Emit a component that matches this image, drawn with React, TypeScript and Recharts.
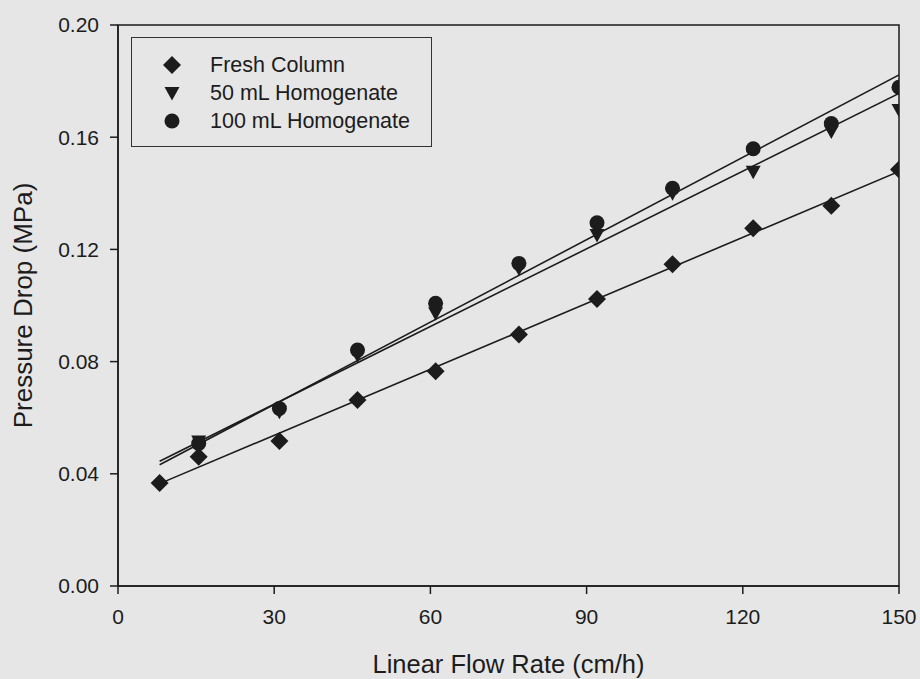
import React from 'react';
import { ComposedChart, Scatter, Line, XAxis, YAxis, ReferenceArea } from 'recharts';

// linear flow rate (cm/h) and pressure drop (MPa)
const flowRates = [8, 15.5, 31, 46, 61, 77, 92, 106.5, 122, 137, 150];
const homogenateFlowRates = [15.5, 31, 46, 61, 77, 92, 106.5, 122, 137, 150];
const freshColumn = [0.0367, 0.0461, 0.0517, 0.0663, 0.0766, 0.0897, 0.1023, 0.1147, 0.1275, 0.1356, 0.1485];
const homogenate50 = [0.0515, 0.0621, 0.0823, 0.0972, 0.1132, 0.1251, 0.140, 0.1477, 0.162, 0.1697];
const homogenate100 = [0.0508, 0.0633, 0.0841, 0.1008, 0.115, 0.1295, 0.1418, 0.1559, 0.1649, 0.1778];

// regression lines, start and end of fitted range
const fitRange = [8, 150];
const freshFit = [0.0365, 0.1478];
const homogenate50Fit = [0.0445, 0.1756];
const homogenate100Fit = [0.0432, 0.1822];

const xTicks = [0, 30, 60, 90, 120, 150];
const yTicks = [0, 0.04, 0.08, 0.12, 0.16, 0.2];

const INK = '#1c1c1c';
const FONT = '"Liberation Sans", Arial, sans-serif';

const toPoints = (xs: number[], ys: number[]) => xs.map((x, i) => ({ x, y: ys[i] }));

const Diamond = ({ cx, cy }: any) => (
  <polygon points={`${cx},${cy - 9} ${cx + 9},${cy} ${cx},${cy + 9} ${cx - 9},${cy}`} fill={INK} />
);
const TriangleDown = ({ cx, cy }: any) => (
  <polygon points={`${cx - 7.5},${cy - 6} ${cx + 7.5},${cy - 6} ${cx},${cy + 7.5}`} fill={INK} />
);
const Dot = ({ cx, cy }: any) => <circle cx={cx} cy={cy} r={7.5} fill={INK} />;

const series = [
  { name: 'Fresh Column', Shape: Diamond, points: toPoints(flowRates, freshColumn), fit: toPoints(fitRange, freshFit) },
  { name: '50 mL Homogenate', Shape: TriangleDown, points: toPoints(homogenateFlowRates, homogenate50), fit: toPoints(fitRange, homogenate50Fit) },
  { name: '100 mL Homogenate', Shape: Dot, points: toPoints(homogenateFlowRates, homogenate100), fit: toPoints(fitRange, homogenate100Fit) },
];

const LegendBox = () => (
  <div
    style={{
      position: 'absolute', left: 131, top: 37, width: 301, height: 110,
      border: `1.5px solid #333`, boxSizing: 'border-box', fontFamily: FONT,
      fontSize: 21.5, color: INK,
    }}
  >
    {series.map((s, i) => (
      <div key={s.name} style={{ position: 'absolute', left: 0, top: 13 + i * 28, height: 28, display: 'flex', alignItems: 'center' }}>
        <svg width={78} height={28} style={{ display: 'block' }}>
          <s.Shape cx={40} cy={14} />
        </svg>
        <span style={{ lineHeight: '28px' }}>{s.name}</span>
      </div>
    ))}
  </div>
);

export default function App() {
  return (
    <div style={{ position: 'relative', width: 920, height: 679, background: '#e6e6e6' }}>
      <style>{'body{margin:0;background:#e6e6e6}'}</style>
      <ComposedChart width={920} height={679} margin={{ top: 25, right: 21, bottom: 0, left: 0 }}>
        <XAxis
          type="number" dataKey="x" domain={[0, 150]} ticks={xTicks} allowDataOverflow
          height={93} tickSize={8} tickMargin={15}
          axisLine={{ stroke: INK, strokeWidth: 1.5 }} tickLine={{ stroke: INK, strokeWidth: 1.5 }}
          tick={{ fill: INK, fontSize: 21, fontFamily: FONT }}
          label={{
            content: ({ viewBox }: any) => (
              <text x={viewBox.x + viewBox.width / 2} y={viewBox.y + 78} textAnchor="middle" dominantBaseline="central"
                fill={INK} fontSize={25.5} fontFamily={FONT}>Linear Flow Rate (cm/h)</text>
            ),
          }}
        />
        <YAxis
          type="number" dataKey="y" domain={[0, 0.2]} ticks={yTicks} allowDataOverflow
          width={118} tickSize={8} tickMargin={11}
          tickFormatter={(v: number) => v.toFixed(2)}
          axisLine={{ stroke: INK, strokeWidth: 1.5 }} tickLine={{ stroke: INK, strokeWidth: 1.5 }}
          tick={{ fill: INK, fontSize: 21, fontFamily: FONT }}
          label={{
            content: ({ viewBox }: any) => {
              const x = 23;
              const y = viewBox.y + viewBox.height / 2;
              return (
                <text x={x} y={y} transform={`rotate(-90 ${x} ${y})`} textAnchor="middle" dominantBaseline="central"
                  fill={INK} fontSize={26} fontFamily={FONT}>Pressure Drop (MPa)</text>
              );
            },
          }}
        />
        <ReferenceArea x1={0} x2={150} y1={0} y2={0.2} fill="none" stroke={INK} strokeWidth={1.5} fillOpacity={0} />
        {series.map((s) => (
          <Line key={`fit-${s.name}`} data={s.fit} dataKey="y" type="linear" stroke={INK} strokeWidth={1.6}
            dot={false} activeDot={false} isAnimationActive={false} legendType="none" />
        ))}
        {series.map((s) => (
          <Scatter key={s.name} name={s.name} data={s.points} isAnimationActive={false}
            shape={(p: any) => <s.Shape cx={p.cx} cy={p.cy} />} />
        ))}
      </ComposedChart>
      <LegendBox />
    </div>
  );
}
